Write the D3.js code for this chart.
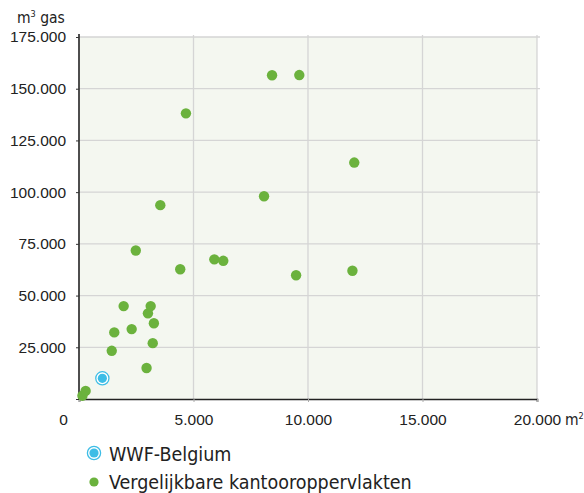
<!DOCTYPE html>
<html>
<head>
<meta charset="utf-8">
<script src="https://cdn.jsdelivr.net/npm/d3@7"></script>
<style>
  body { margin: 0; background: #fff; }
  svg { font-family: "DejaVu Sans", sans-serif; font-stretch: condensed; }
</style>
</head>
<body>
<div id="chart"></div>
<script>
// office area (m2) vs gas use (m3)
var offices = [
  {area: 150, gas: 1600},
  {area: 290, gas: 3900},
  {area: 1430, gas: 23300},
  {area: 1540, gas: 32200},
  {area: 1950, gas: 44900},
  {area: 2300, gas: 33800},
  {area: 2480, gas: 71800},
  {area: 2950, gas: 15000},
  {area: 3010, gas: 41400},
  {area: 3130, gas: 44900},
  {area: 3220, gas: 27000},
  {area: 3270, gas: 36600},
  {area: 3550, gas: 93700},
  {area: 4420, gas: 62700},
  {area: 4670, gas: 138100},
  {area: 5910, gas: 67500},
  {area: 6300, gas: 66800},
  {area: 8080, gas: 98000},
  {area: 8430, gas: 156500},
  {area: 9480, gas: 59800},
  {area: 9620, gas: 156600},
  {area: 11940, gas: 62000},
  {area: 12020, gas: 114300}
];
var wwf = [{area: 1020, gas: 10000}];

var xTicks = [0, 5000, 10000, 15000, 20000];
var yTicks = [25000, 50000, 75000, 100000, 125000, 150000, 175000];
var legendLabels = ["WWF-Belgium", "Vergelijkbare kantooroppervlakten"];

var green = "#6bb23d", blue = "#3dbde6";

var margin = {top: 37, right: 47, bottom: 94, left: 79},
    width = 584 - margin.left - margin.right,
    height = 493 - margin.top - margin.bottom;

var nl = d3.formatLocale({decimal: ",", thousands: ".", grouping: [3], currency: ["€", ""]});
var fmt = nl.format(",d");

var svg = d3.select("#chart")
  .append("svg")
    .attr("width", 584)
    .attr("height", 493);

var g = svg.append("g")
    .attr("transform", "translate(" + margin.left + "," + margin.top + ")");

var x = d3.scaleLinear().domain([0, 20000]).range([0, width]);
var y = d3.scaleLinear().domain([0, 175000]).range([height, 0]);

// plot background
g.append("rect")
  .attr("x", 0).attr("y", 0)
  .attr("width", x(20000)).attr("height", y(0))
  .attr("fill", "#f4f7f0");

// grid
g.selectAll(".vgrid")
  .data(xTicks.slice(1))
  .enter().append("line")
    .attr("x1", function(d) { return x(d); })
    .attr("x2", function(d) { return x(d); })
    .attr("y1", y(175000) - 2)
    .attr("y2", y(0))
    .attr("stroke", "#d5d5d5")
    .attr("stroke-width", 1.3);

g.selectAll(".hgrid")
  .data(yTicks)
  .enter().append("line")
    .attr("x1", 0)
    .attr("x2", x(20000) + 3)
    .attr("y1", function(d) { return y(d); })
    .attr("y2", function(d) { return y(d); })
    .attr("stroke", "#d5d5d5")
    .attr("stroke-width", 1.3);

// axes
var xAxis = g.append("g")
  .attr("transform", "translate(0," + height + ")")
  .call(d3.axisBottom(x).tickValues(xTicks).tickFormat(fmt).tickSize(3).tickPadding(8));
xAxis.select(".domain").attr("stroke", "#222").attr("stroke-width", 1.6);
xAxis.selectAll(".tick line").attr("stroke", "#aaa");
xAxis.selectAll("text").attr("font-size", 15.5).attr("fill", "#222").attr("dy", "0.95em");
xAxis.selectAll(".tick").filter(function(d) { return d === 0; }).select("text")
  .attr("x", -16);

var yAxis = g.append("g")
  .call(d3.axisLeft(y).tickValues([0].concat(yTicks)).tickFormat(function(d) { return d === 0 ? "" : fmt(d); }).tickSize(3).tickPadding(10));
yAxis.select(".domain").attr("stroke", "#222").attr("stroke-width", 1.6)
  .attr("d", "M0," + (y(175000) - 3) + "V" + height);
yAxis.selectAll(".tick line").attr("stroke", "#333");
yAxis.selectAll("text").attr("font-size", 15.5).attr("fill", "#222");

// units
svg.append("text")
  .attr("x", 17).attr("y", 23)
  .attr("font-size", 15.5).attr("fill", "#222")
  .html('m<tspan font-size="9" dy="-6">3</tspan><tspan dy="6"> gas</tspan>');

var lastLabel = xAxis.selectAll(".tick").filter(function(d) { return d === 20000; }).select("text").node();
var lastW = lastLabel.getBBox().width;
svg.append("text")
  .attr("x", margin.left + x(20000) + lastW / 2 + 4).attr("y", margin.top + height + 26)
  .attr("font-size", 15.5).attr("fill", "#222")
  .html('m<tspan font-size="9" dy="-6">2</tspan>');

// points
g.selectAll(".office")
  .data(offices)
  .enter().append("circle")
    .attr("cx", function(d) { return x(d.area); })
    .attr("cy", function(d) { return y(d.gas); })
    .attr("r", 5.2)
    .attr("fill", green);

var w = g.selectAll(".wwf").data(wwf).enter().append("g")
  .attr("transform", function(d) { return "translate(" + x(d.area) + "," + y(d.gas) + ")"; });
w.append("circle").attr("r", 6.6).attr("fill", "#fff").attr("stroke", blue).attr("stroke-width", 1.3);
w.append("circle").attr("r", 4.6).attr("fill", blue);

// legend
var lg = svg.append("g").attr("transform", "translate(94,453)");
lg.append("circle").attr("r", 6.6).attr("fill", "#fff").attr("stroke", blue).attr("stroke-width", 1.3);
lg.append("circle").attr("r", 4.6).attr("fill", blue);
lg.append("circle").attr("cy", 29).attr("r", 4.6).attr("fill", green);
lg.selectAll("text")
  .data(legendLabels)
  .enter().append("text")
    .attr("x", 15)
    .attr("y", function(d, i) { return 8 + i * 28; })
    .attr("font-size", 19.5)
    .attr("fill", "#222")
    .text(function(d) { return d; });
</script>
</body>
</html>
